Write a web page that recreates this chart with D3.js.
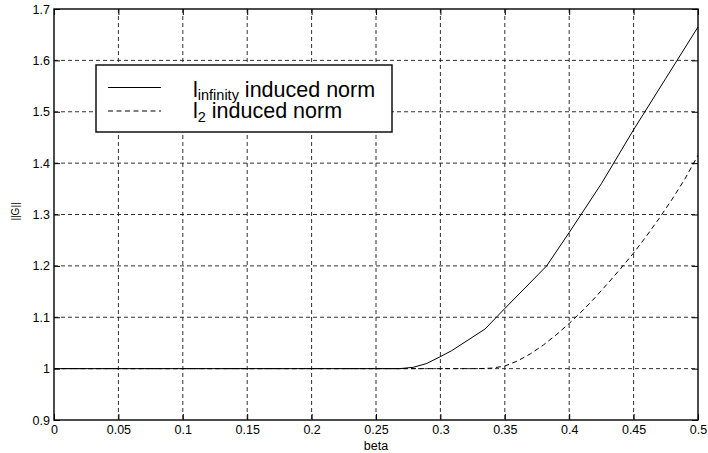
<!DOCTYPE html>
<html>
<head>
<meta charset="utf-8">
<script src="https://cdn.jsdelivr.net/npm/d3@7"></script>
<style>
  html, body { margin: 0; padding: 0; background: #fff; }
  svg { display: block; font-family: "Liberation Sans", Arial, Helvetica, sans-serif; }
</style>
</head>
<body>
<svg id="chart" width="708" height="453"></svg>
<script>
// beta values and the two induced norms of G
const betaInf = [0, 0.265, 0.2686, 0.279, 0.2894, 0.2997, 0.3088, 0.3346, 0.35, 0.3825, 0.4, 0.425, 0.45, 0.475, 0.5];
const normInf = [1.0, 1.0, 1.0, 1.0026, 1.010, 1.023, 1.035, 1.077, 1.117, 1.200, 1.265, 1.360, 1.465, 1.565, 1.665];

const betaL2 = [0, 0.33, 0.34, 0.35, 0.36, 0.37, 0.38, 0.39, 0.4, 0.41, 0.42, 0.43, 0.44, 0.45, 0.46, 0.47, 0.48, 0.49, 0.5];
const normL2 = [1.0, 1.0, 1.001, 1.005, 1.015, 1.029, 1.046, 1.066, 1.088, 1.112, 1.138, 1.166, 1.195, 1.225, 1.258, 1.293, 1.330, 1.370, 1.415];

const xTicks = [0, 0.05, 0.1, 0.15, 0.2, 0.25, 0.3, 0.35, 0.4, 0.45, 0.5];
const xTickLabels = ["0", "0.05", "0.1", "0.15", "0.2", "0.25", "0.3", "0.35", "0.4", "0.45", "0.5"];
const yTicks = [0.9, 1.0, 1.1, 1.2, 1.3, 1.4, 1.5, 1.6, 1.7];
const yTickLabels = ["0.9", "1", "1.1", "1.2", "1.3", "1.4", "1.5", "1.6", "1.7"];

const seriesNames = ["infinity", "2"];

const svg = d3.select("#chart");
const margin = { top: 9, right: 10, bottom: 33, left: 54 };
const W = 708 - margin.left - margin.right;
const H = 453 - margin.top - margin.bottom;

const x = d3.scaleLinear().domain([0, 0.5]).range([0, W]);
const y = d3.scaleLinear().domain([0.9, 1.7]).range([H, 0]);

const g = svg.append("g").attr("transform", `translate(${margin.left},${margin.top})`);

// dashed grid
const gridColor = "#1a1a1a";
g.append("g").selectAll("line").data(xTicks.slice(1, -1)).join("line")
  .attr("x1", d => x(d)).attr("x2", d => x(d))
  .attr("y1", 0).attr("y2", H)
  .attr("stroke", gridColor).attr("stroke-width", 0.9).attr("stroke-dasharray", "4,3");
g.append("g").selectAll("line").data(yTicks.slice(1, -1)).join("line")
  .attr("y1", d => y(d)).attr("y2", d => y(d))
  .attr("x1", 0).attr("x2", W)
  .attr("stroke", gridColor).attr("stroke-width", 0.9).attr("stroke-dasharray", "4,3");

// axes with inward ticks
const fmtX = (d, i) => xTickLabels[i];
const fmtY = (d, i) => yTickLabels[i];
const ax = g.append("g").attr("transform", `translate(0,${H})`)
  .call(d3.axisBottom(x).tickValues(xTicks).tickFormat(fmtX).tickSizeInner(-6).tickSizeOuter(0).tickPadding(5));
const ay = g.append("g")
  .call(d3.axisLeft(y).tickValues(yTicks).tickFormat(fmtY).tickSizeInner(-6).tickSizeOuter(0).tickPadding(4));
const axTop = g.append("g")
  .call(d3.axisTop(x).tickValues(xTicks).tickFormat("").tickSizeInner(-6).tickSizeOuter(0));
const ayRight = g.append("g").attr("transform", `translate(${W},0)`)
  .call(d3.axisRight(y).tickValues(yTicks).tickFormat("").tickSizeInner(-6).tickSizeOuter(0));
[ax, ay, axTop, ayRight].forEach(a => {
  a.select(".domain").remove();
  a.selectAll("line").attr("stroke", "#000");
  a.selectAll("text").attr("fill", "#000").style("font-size", "12.5px")
    .style("font-family", "'Liberation Sans', Arial, Helvetica, sans-serif");
});

// frame
g.append("rect").attr("x", 0).attr("y", 0).attr("width", W).attr("height", H)
  .attr("fill", "none").attr("stroke", "#000").attr("stroke-width", 1.4);

// curves
const line = d3.line().x(d => x(d[0])).y(d => y(d[1]));
const dataInf = betaInf.map((b, i) => [b, normInf[i]]);
const dataL2 = betaL2.map((b, i) => [b, normL2[i]]);
g.append("path").datum(dataInf).attr("d", line)
  .attr("fill", "none").attr("stroke", "#000").attr("stroke-width", 1);
g.append("path").datum(dataL2).attr("d", line)
  .attr("fill", "none").attr("stroke", "#000").attr("stroke-width", 1).attr("stroke-dasharray", "5,3.5");

// axis labels
svg.append("text").attr("x", margin.left + W / 2).attr("y", 450)
  .attr("text-anchor", "middle").style("font-size", "12.5px").text("beta");
svg.append("text").attr("transform", `translate(18.5,${margin.top + H / 2 - 3}) rotate(-90)`)
  .attr("text-anchor", "middle").style("font-size", "10px").text("||G||");

// legend box in the upper left of the axes
const legend = svg.append("g").attr("transform", "translate(96,65)");
legend.append("rect").attr("x", 0).attr("y", 0).attr("width", 296).attr("height", 67)
  .attr("fill", "#fff").attr("stroke", "#000").attr("stroke-width", 1.4);
const rows = [
  { name: seriesNames[0], dash: null, yLine: 22.5, base: 31.7 },
  { name: seriesNames[1], dash: "5,3.5", yLine: 46, base: 53.3 }
];
rows.forEach(r => {
  legend.append("line").attr("x1", 12).attr("x2", 65)
    .attr("y1", r.yLine).attr("y2", r.yLine)
    .attr("stroke", "#000").attr("stroke-width", 1).attr("stroke-dasharray", r.dash);
  const t = legend.append("text").attr("x", 97).attr("y", r.base).style("font-size", "21.5px");
  t.append("tspan").text("l");
  t.append("tspan").attr("dy", 3.5).style("font-size", "14.5px").text(r.name);
  t.append("tspan").attr("dy", -3.5).text(" induced norm");
});
</script>
</body>
</html>
